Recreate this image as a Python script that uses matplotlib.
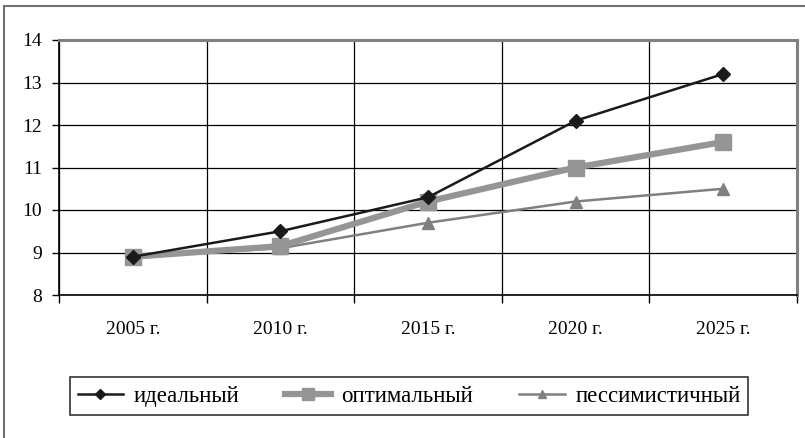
import matplotlib
matplotlib.use("Agg")
import matplotlib.pyplot as plt
from matplotlib.patches import Rectangle
import numpy as np

categories = ["2005 г.", "2010 г.", "2015 г.", "2020 г.", "2025 г."]
ideal = [8.9, 9.5, 10.3, 12.1, 13.2]
optimal = [8.9, 9.15, 10.2, 11.0, 11.6]
pessim = [8.9, 9.1, 9.7, 10.2, 10.5]
series_names = ["идеальный", "оптимальный", "пессимистичный"]
y_ticks = [8, 9, 10, 11, 12, 13, 14]

plt.rcParams['font.family'] = ['Liberation Serif', 'DejaVu Serif']

W, H = 805, 438
fig = plt.figure(figsize=(W/100, H/100), dpi=100)
# outer frame (only top and left edges are visible in the crop)
fig.patches.append(Rectangle((4/W, -0.05), 1.2, 1.05 - 6/H, transform=fig.transFigure,
                             fill=False, edgecolor='#707070', linewidth=1.5))
ax = fig.add_axes([59/W, 1-295/H, (797-59)/W, (295-40)/H])

x = np.arange(len(categories))
ax.plot(x, ideal, color='#1a1a1a', lw=1.8, marker='D', ms=7, label=series_names[0], zorder=5)
ax.plot(x, optimal, color='#959595', lw=4.5, marker='s', ms=12, label=series_names[1], zorder=4)
ax.plot(x, pessim, color='#808080', lw=1.8, marker='^', ms=8, label=series_names[2], zorder=3)

ax.set_xlim(-0.5, len(categories)-0.5)
ax.set_ylim(8, 14)
ax.set_yticks(y_ticks)
ax.set_yticklabels([str(v) for v in y_ticks], fontsize=14)
ax.set_xticks(x)
ax.set_xticklabels(categories, fontsize=14)
ax.tick_params(axis='x', length=0, pad=19)
ax.set_xticks(np.arange(len(categories)+1) - 0.5, minor=True)
ax.tick_params(axis='x', which='minor', length=6, direction='out', width=1, color='black')
ax.tick_params(axis='y', length=5, direction='out', width=1, pad=7)
ax.grid(axis='y', which='major', color='black', lw=0.9)
ax.grid(axis='x', which='minor', color='black', lw=0.9)
ax.set_axisbelow(True)
for s in ['left', 'bottom']:
    ax.spines[s].set_color('black'); ax.spines[s].set_linewidth(1.2)
for s in ['top', 'right']:
    ax.spines[s].set_color('#808080'); ax.spines[s].set_linewidth(2.2)

leg = fig.legend(loc='center', bbox_to_anchor=(409/W, 1-396/H), ncol=3, fontsize=16.5,
                 frameon=True, fancybox=False, edgecolor='black', handlelength=2.0,
                 columnspacing=2.0, borderpad=0.35, handletextpad=0.45, markerscale=0.7)
leg.get_frame().set_linewidth(1.2)

fig.savefig("out.png", dpi=100)
